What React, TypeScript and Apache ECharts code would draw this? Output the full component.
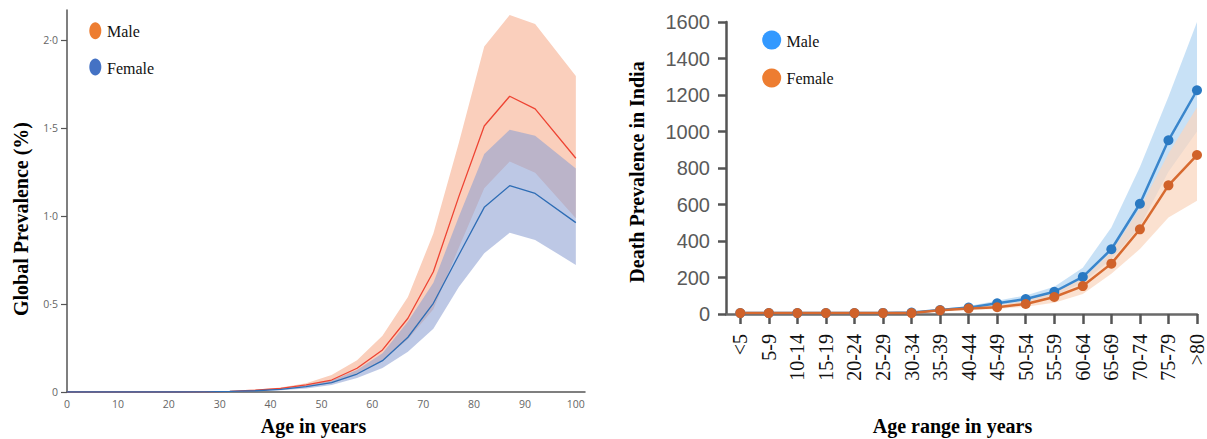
import React, { useEffect, useRef } from "react";
import * as echarts from "echarts";

// ---- Left chart: Global prevalence (%) by age ----
const ages = [0, 2, 7, 12, 17, 22, 27, 32, 37, 42, 47, 52, 57, 62, 67, 72, 77, 82, 87, 92, 100];
const maleGlobal = [0, 0, 0, 0, 0, 0, 0.001, 0.004, 0.01, 0.02, 0.04, 0.068, 0.135, 0.239, 0.419, 0.683, 1.11, 1.511, 1.68, 1.608, 1.328];
const maleGlobalUpper = [0, 0, 0, 0, 0, 0, 0.002, 0.006, 0.013, 0.026, 0.05, 0.097, 0.18, 0.32, 0.54, 0.9, 1.414, 1.962, 2.142, 2.09, 1.795];
const maleGlobalLower = [0, 0, 0, 0, 0, 0, 0.001, 0.003, 0.007, 0.015, 0.03, 0.05, 0.1, 0.18, 0.3, 0.47, 0.82, 1.157, 1.309, 1.246, 0.987];
const femaleGlobal = [0, 0, 0, 0, 0, 0, 0.001, 0.003, 0.007, 0.015, 0.03, 0.053, 0.102, 0.178, 0.311, 0.504, 0.778, 1.049, 1.172, 1.128, 0.962];
const femaleGlobalUpper = [0, 0, 0, 0, 0, 0, 0.001, 0.004, 0.009, 0.02, 0.04, 0.065, 0.125, 0.22, 0.4, 0.62, 0.996, 1.352, 1.49, 1.455, 1.27];
const femaleGlobalLower = [0, 0, 0, 0, 0, 0, 0.0, 0.002, 0.005, 0.01, 0.02, 0.04, 0.08, 0.136, 0.229, 0.36, 0.597, 0.788, 0.905, 0.864, 0.722];
const leftXTicks = [0, 10, 20, 30, 40, 50, 60, 70, 80, 90, 100];
const leftYTicks = [0, 0.5, 1, 1.5, 2];

// ---- Right chart: Death prevalence in India by age range ----
const ageRanges = ["<5", "5-9", "10-14", "15-19", "20-24", "25-29", "30-34", "35-39", "40-44", "45-49", "50-54", "55-59", "60-64", "65-69", "70-74", "75-79", ">80"];
const maleIndia = [5, 5, 5, 5, 5, 6, 8, 22, 35, 59, 82, 122, 203, 355, 604, 952, 1226];
const maleIndiaUpper = [7, 7, 7, 7, 7, 8, 11, 28, 44, 72, 102, 150, 254, 474, 805, 1190, 1600];
const maleIndiaLower = [3, 3, 3, 3, 3, 4, 6, 16, 28, 46, 64, 100, 172, 300, 480, 780, 1000];
const femaleIndia = [5, 5, 5, 5, 5, 5, 5, 20, 30, 37, 55, 93, 153, 276, 464, 705, 871];
const femaleIndiaUpper = [7, 7, 7, 7, 7, 7, 7, 25, 38, 48, 72, 125, 192, 340, 580, 880, 1133];
const femaleIndiaLower = [3, 3, 3, 3, 3, 3, 3, 14, 22, 27, 40, 62, 110, 220, 356, 529, 620];

const zip = (xs: number[], ys: number[]) => xs.map((x, i) => [x, ys[i]]);
const indices = ageRanges.map((_, i) => i);

const serif = '"Liberation Serif", "Times New Roman", serif';

// band drawn as one polygon through the axis scales (api.coord)
const band = (name: string, xs: number[], lower: number[], upper: number[], axisIndex: number, fill: string) => ({
  name,
  type: "custom",
  xAxisIndex: axisIndex,
  yAxisIndex: axisIndex,
  silent: true,
  z: 1,
  data: xs.map((x, i) => [x, lower[i], upper[i]]),
  encode: { x: 0, y: [1, 2] },
  renderItem: (params: any, api: any) => {
    if (params.dataIndex !== 0) return null;
    const top = xs.map((x, i) => api.coord([x, upper[i]]));
    const bottom = xs.map((x, i) => api.coord([x, lower[i]])).reverse();
    return {
      type: "polygon",
      shape: { points: top.concat(bottom) },
      style: { fill },
    };
  },
});

export default function App() {
  const ref = useRef<HTMLDivElement>(null);
  useEffect(() => {
    if (!ref.current) return;
    const chart = echarts.init(ref.current, undefined, { renderer: "svg" });

    const option: any = {
      animation: false,
      grid: [
        { left: 67, right: 622, top: 10, bottom: 47 },
        { left: 726, right: 4, top: 22, bottom: 125 },
      ],
      xAxis: [
        {
          gridIndex: 0, type: "value", min: 0, max: 101.8,
          axisLine: { show: true, onZero: false, lineStyle: { color: "#555", width: 1.5 } },
          axisTick: { show: false },
          splitLine: { show: false },
          axisLabel: { customValues: leftXTicks, color: "#666", fontSize: 10.5, margin: 6, fontFamily: '"Open Sans", sans-serif' },
        },
        {
          gridIndex: 1, type: "value", min: -0.5, max: 16,
          axisLine: { show: true, onZero: false, lineStyle: { color: "#6a6a6a", width: 2.5 } },
          axisTick: { show: true, customValues: indices, length: 10, lineStyle: { color: "#555", width: 2.5 } },
          splitLine: { show: false },
          axisLabel: {
            customValues: indices, rotate: 90, margin: 20, color: "#111", fontSize: 20, fontFamily: serif,
            padding: [0, 0, 10, 0],
            formatter: (v: number) => ageRanges[Math.round(v)] ?? "",
          },
        },
      ],
      yAxis: [
        {
          gridIndex: 0, type: "value", min: 0, max: 2.17,
          axisLine: { show: true, onZero: false, lineStyle: { color: "#555", width: 1.5 } },
          axisTick: { show: true, customValues: leftYTicks, length: 6, lineStyle: { color: "#555", width: 1.2 } },
          splitLine: { show: false },
          axisLabel: {
            customValues: leftYTicks, color: "#666", fontSize: 10.5, margin: 9, fontFamily: '"Open Sans", sans-serif',
            formatter: (v: number) => (v === 0 ? "0" : v.toFixed(1).replace(".", "\u00b7")),
          },
        },
        {
          gridIndex: 1, type: "value", min: 0, max: 1600, interval: 200,
          axisLine: { show: true, onZero: false, lineStyle: { color: "#555", width: 2.5 } },
          axisTick: { show: true, length: 8, lineStyle: { color: "#555", width: 2.5 } },
          splitLine: { show: false },
          axisLabel: {
            color: "#5a5a5a", fontSize: 20, margin: 16, fontFamily: '"Liberation Sans", Arial, sans-serif',
            formatter: (v: number) => String(v),
          },
        },
      ],
      series: [
        band("Male band", ages, maleGlobalLower, maleGlobalUpper, 0, "#facfbc"),
        band("Female band", ages, femaleGlobalLower, femaleGlobalUpper, 0, "rgba(141,160,210,0.58)"),
        {
          name: "Male", type: "line", xAxisIndex: 0, yAxisIndex: 0, data: zip(ages, maleGlobal), symbol: "none", z: 3,
          lineStyle: { color: "#ee4433", width: 1.3 },
        },
        {
          name: "Female", type: "line", xAxisIndex: 0, yAxisIndex: 0, data: zip(ages, femaleGlobal), symbol: "none", z: 3,
          lineStyle: { color: "#2e6db5", width: 1.3 },
        },
        band("Male India band", indices, maleIndiaLower, maleIndiaUpper, 1, "rgba(190,220,245,0.85)"),
        band("Female India band", indices, femaleIndiaLower, femaleIndiaUpper, 1, "rgba(250,213,190,0.72)"),
        {
          name: "Male India", type: "line", xAxisIndex: 1, yAxisIndex: 1, data: zip(indices, maleIndia), z: 3,
          symbol: "circle", symbolSize: 10, showSymbol: true,
          lineStyle: { color: "#3a86cc", width: 2.5 }, itemStyle: { color: "#2a79c2" },
        },
        {
          name: "Female India", type: "line", xAxisIndex: 1, yAxisIndex: 1, data: zip(indices, femaleIndia), z: 3,
          symbol: "circle", symbolSize: 10, showSymbol: true,
          lineStyle: { color: "#d76a30", width: 2.5 }, itemStyle: { color: "#d0622a" },
        },
      ],
      graphic: {
        elements: [
          // left legend
          { type: "ellipse", z: 100, shape: { cx: 95.3, cy: 30.7, rx: 6, ry: 8.5 }, style: { fill: "#ed7d31" } },
          { type: "text", z: 100, x: 107, y: 31, style: { text: "Male", font: `16px ${serif}`, fill: "#111", verticalAlign: "middle", align: "left" } },
          { type: "ellipse", z: 100, shape: { cx: 95.3, cy: 67, rx: 6, ry: 8.5 }, style: { fill: "#4472c4" } },
          { type: "text", z: 100, x: 107, y: 68, style: { text: "Female", font: `16px ${serif}`, fill: "#111", verticalAlign: "middle", align: "left" } },
          // right legend
          { type: "circle", z: 100, shape: { cx: 771.7, cy: 40, r: 9.5 }, style: { fill: "#3399ff" } },
          { type: "text", z: 100, x: 786.5, y: 41.5, style: { text: "Male", font: `16px ${serif}`, fill: "#111", verticalAlign: "middle", align: "left" } },
          { type: "circle", z: 100, shape: { cx: 771.7, cy: 78, r: 9.5 }, style: { fill: "#ed7d31" } },
          { type: "text", z: 100, x: 786.5, y: 78.5, style: { text: "Female", font: `16px ${serif}`, fill: "#111", verticalAlign: "middle", align: "left" } },
          // axis titles
          { type: "text", z: 100, x: 21, y: 219, rotation: Math.PI / 2, style: { text: "Global Prevalence (%)", font: `bold 20px ${serif}`, fill: "#000", align: "center", verticalAlign: "middle" } },
          { type: "text", z: 100, x: 313.5, y: 426, style: { text: "Age in years", font: `bold 20px ${serif}`, fill: "#000", align: "center", verticalAlign: "middle" } },
          { type: "text", z: 100, x: 637, y: 172, rotation: Math.PI / 2, style: { text: "Death Prevalence in India", font: `bold 20px ${serif}`, fill: "#000", align: "center", verticalAlign: "middle" } },
          { type: "text", z: 100, x: 952.5, y: 426, style: { text: "Age range in years", font: `bold 20px ${serif}`, fill: "#000", align: "center", verticalAlign: "middle" } },
        ],
      },
    };
    chart.setOption(option);
    return () => chart.dispose();
  }, []);
  return <div ref={ref} style={{ position: "fixed", left: 0, top: 0, width: 1207, height: 439, background: "#fff" }} />;
}
